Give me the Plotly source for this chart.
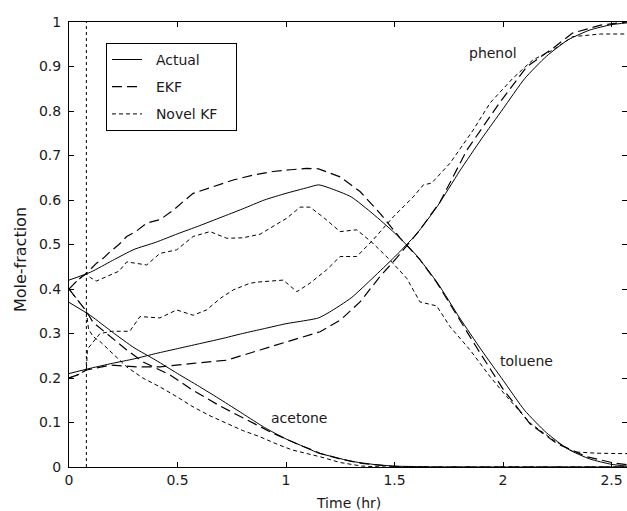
import plotly.graph_objects as go

# ---------------- data ----------------
# Actual trajectories
t_actual = [0.0, 0.1, 0.2, 0.3, 0.4, 0.5, 0.6, 0.7, 0.8, 0.9, 1.0, 1.1, 1.15, 1.2, 1.3,
            1.4, 1.5, 1.6, 1.7, 1.8, 1.9, 2.0, 2.1, 2.2, 2.3, 2.4, 2.5, 2.571]
toluene_actual = [0.420, 0.438, 0.464, 0.489, 0.505, 0.524, 0.542, 0.561, 0.580, 0.600, 0.615,
                  0.628, 0.634, 0.627, 0.607, 0.569, 0.526, 0.476, 0.412, 0.335, 0.263, 0.195,
                  0.127, 0.077, 0.040, 0.018, 0.006, 0.002]
phenol_actual = [0.210, 0.222, 0.233, 0.243, 0.255, 0.266, 0.277, 0.288, 0.300, 0.311, 0.322,
                 0.330, 0.335, 0.348, 0.380, 0.425, 0.472, 0.523, 0.588, 0.665, 0.737, 0.805,
                 0.873, 0.923, 0.960, 0.982, 0.994, 0.998]
acetone_actual = [0.370, 0.340, 0.303, 0.268, 0.240, 0.210, 0.181, 0.151, 0.120, 0.089, 0.063,
                  0.042, 0.031, 0.025, 0.013, 0.006, 0.002, 0.001, 0.0, 0.0, 0.0, 0.0,
                  0.0, 0.0, 0.0, 0.0, 0.0, 0.0]

# EKF estimates
t_ekf_tol = [0.0, 0.04, 0.08, 0.127, 0.16, 0.19, 0.23, 0.266, 0.31, 0.358, 0.42, 0.48, 0.53,
             0.572, 0.665, 0.757, 0.85, 0.94, 1.02, 1.095, 1.15, 1.249, 1.341, 1.433, 1.525,
             1.617, 1.694, 1.8, 1.879, 2.0, 2.124, 2.247, 2.386, 2.51, 2.571]
toluene_ekf = [0.400, 0.420, 0.435, 0.458, 0.470, 0.484, 0.500, 0.518, 0.530, 0.548, 0.556,
               0.577, 0.598, 0.615, 0.630, 0.645, 0.656, 0.664, 0.668, 0.671, 0.670, 0.652,
               0.619, 0.570, 0.515, 0.466, 0.415, 0.330, 0.268, 0.175, 0.097, 0.053, 0.023,
               0.009, 0.005]
t_ekf_phe = [0.0, 0.04, 0.08, 0.19, 0.31, 0.42, 0.572, 0.727, 0.88, 1.03, 1.157, 1.25, 1.341,
             1.433, 1.51, 1.617, 1.71, 1.833, 1.986, 2.11, 2.23, 2.32, 2.45, 2.571]
phenol_ekf = [0.200, 0.207, 0.218, 0.229, 0.225, 0.225, 0.233, 0.240, 0.263, 0.285, 0.304,
              0.330, 0.371, 0.428, 0.470, 0.533, 0.596, 0.712, 0.820, 0.900, 0.941, 0.975,
              0.993, 1.000]
t_ekf_ace = [0.0, 0.04, 0.08, 0.111, 0.19, 0.266, 0.342, 0.465, 0.572, 0.696, 0.819, 0.94,
             1.065, 1.157, 1.25, 1.35, 1.45, 1.55, 2.571]
acetone_ekf = [0.400, 0.375, 0.350, 0.325, 0.293, 0.263, 0.236, 0.207, 0.172, 0.137, 0.106,
               0.076, 0.049, 0.031, 0.018, 0.008, 0.003, 0.0, 0.0]

# Novel KF estimates
t_nkf_tol = [0.0, 0.04, 0.08, 0.1, 0.127, 0.19, 0.23, 0.266, 0.31, 0.358, 0.419, 0.496, 0.572,
             0.65, 0.727, 0.80, 0.88, 0.94, 1.003, 1.065, 1.11, 1.17, 1.249, 1.326, 1.40, 1.479,
             1.556, 1.617, 1.694, 1.756, 1.848, 1.94, 2.017, 2.124, 2.23, 2.325, 2.43, 2.571]
toluene_nkf = [0.400, 0.420, 0.435, 0.425, 0.418, 0.431, 0.440, 0.461, 0.458, 0.454, 0.480,
               0.488, 0.518, 0.529, 0.514, 0.515, 0.523, 0.540, 0.559, 0.584, 0.584, 0.562,
               0.529, 0.533, 0.503, 0.465, 0.424, 0.371, 0.362, 0.315, 0.263, 0.203, 0.158,
               0.099, 0.061, 0.034, 0.031, 0.030]
t_nkf_phe = [0.0, 0.04, 0.08, 0.085, 0.143, 0.2, 0.28, 0.327, 0.419, 0.496, 0.572, 0.634, 0.70,
             0.757, 0.834, 0.88, 0.987, 1.05, 1.11, 1.187, 1.249, 1.326, 1.40, 1.494, 1.586,
             1.633, 1.671, 1.756, 1.862, 1.94, 2.046, 2.138, 2.23, 2.32, 2.45, 2.571]
phenol_nkf = [0.200, 0.207, 0.218, 0.265, 0.300, 0.305, 0.305, 0.338, 0.335, 0.353, 0.341,
              0.353, 0.380, 0.398, 0.413, 0.416, 0.420, 0.394, 0.413, 0.443, 0.473, 0.473,
              0.510, 0.562, 0.607, 0.634, 0.638, 0.683, 0.757, 0.818, 0.874, 0.915, 0.937,
              0.967, 0.973, 0.973]
t_nkf_ace = [0.0, 0.04, 0.08, 0.09, 0.111, 0.143, 0.2, 0.266, 0.34, 0.419, 0.5, 0.572, 0.65,
             0.727, 0.8, 0.88, 0.95, 1.03, 1.157, 1.25, 1.35, 1.45, 2.571]
acetone_nkf = [0.400, 0.375, 0.350, 0.310, 0.293, 0.282, 0.255, 0.225, 0.200, 0.180, 0.157,
               0.135, 0.115, 0.098, 0.082, 0.068, 0.053, 0.038, 0.023, 0.010, 0.002, 0.0, 0.0]

measurement_start = 0.08
labels = [("phenol", 1.954, 0.93), ("toluene", 2.11, 0.238), ("acetone", 1.06, 0.11)]
x_ticks = [0, 0.5, 1, 1.5, 2, 2.5]
x_tick_text = ["0", "0.5", "1", "1.5", "2", "2.5"]
y_ticks = [0, 0.1, 0.2, 0.3, 0.4, 0.5, 0.6, 0.7, 0.8, 0.9, 1.0]
y_tick_text = ["0", "0.1", "0.2", "0.3", "0.4", "0.5", "0.6", "0.7", "0.8", "0.9", "1"]
series_names = ["Actual", "EKF", "Novel KF"]


def joined(*pairs):
    xs, ys = [], []
    for x, y in pairs:
        xs += list(x) + [None]
        ys += list(y) + [None]
    return xs, ys


def legend_name(s):
    # a little padding so the legend box matches the original proportions
    return "\u00a0\u00a0" + s + "\u00a0\u00a0\u00a0"


FONT = "DejaVu Sans, Verdana, sans-serif"
FS = 14
TXT = "#1a1a1a"
fig = go.Figure()

xa, ya = joined((t_actual, toluene_actual), (t_actual, phenol_actual), (t_actual, acetone_actual))
fig.add_trace(go.Scatter(x=xa, y=ya, mode="lines", name=legend_name(series_names[0]),
                         legendgroup="a",
                         line=dict(color="black", width=1, shape="spline", smoothing=0.6)))
xe, ye = joined((t_ekf_tol, toluene_ekf), (t_ekf_phe, phenol_ekf), (t_ekf_ace, acetone_ekf))
fig.add_trace(go.Scatter(x=xe, y=ye, mode="lines", name=legend_name(series_names[1]),
                         legendgroup="b",
                         line=dict(color="black", width=1.2, dash="10px,5px")))
xn, yn = joined((t_nkf_tol, toluene_nkf), (t_nkf_phe, phenol_nkf), (t_nkf_ace, acetone_nkf))
fig.add_trace(go.Scatter(x=xn, y=yn, mode="lines", name=legend_name(series_names[2]),
                         legendgroup="c",
                         line=dict(color="black", width=1, dash="4px,3px")))

fig.add_shape(type="line", x0=measurement_start, x1=measurement_start, y0=0, y1=1,
              xref="x", yref="y", line=dict(color="black", width=1, dash="3px,3px"))

for txt, x, y in labels:
    fig.add_annotation(x=x, y=y, text=txt, showarrow=False, xref="x", yref="y",
                       font=dict(family=FONT, size=FS, color=TXT))

fig.add_annotation(x=-0.088, y=0.467, xref="paper", yref="paper", text="Mole-fraction",
                   xanchor="center", yanchor="middle",
                   textangle=-90, showarrow=False, font=dict(family=FONT, size=16, color=TXT))
fig.add_annotation(x=0.5, y=-0.08, xref="paper", yref="paper", text="Time (hr)",
                   xanchor="center", yanchor="middle",
                   showarrow=False, font=dict(family=FONT, size=FS, color=TXT))

axis_common = dict(showline=True, linecolor="black", linewidth=1, mirror="ticks",
                   ticks="inside", ticklen=5, tickcolor="black", showgrid=False,
                   zeroline=False, tickfont=dict(family=FONT, size=FS, color=TXT))
fig.update_xaxes(range=[0, 2.571], tickvals=x_ticks, ticktext=x_tick_text, **axis_common)
fig.update_yaxes(range=[0, 1], tickvals=y_ticks, ticktext=y_tick_text,
                 ticklabelstandoff=4, **axis_common)

fig.update_layout(
    width=627, height=511,
    margin=dict(l=69, r=0, t=22, b=44),
    paper_bgcolor="white", plot_bgcolor="white",
    font=dict(family=FONT, size=FS, color=TXT),
    showlegend=True,
    legend=dict(x=0.0663, y=0.953, xanchor="left", yanchor="top",
                bgcolor="white", bordercolor="black", borderwidth=1,
                tracegroupgap=6,
                font=dict(family=FONT, size=FS, color=TXT)),
)

fig.write_html("out.html", config={"displayModeBar": False},
               post_script="document.body.style.margin='0';document.body.style.padding='0';")
